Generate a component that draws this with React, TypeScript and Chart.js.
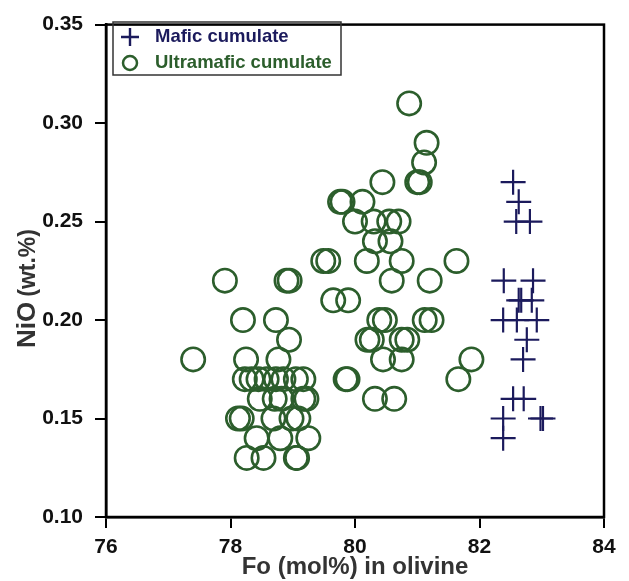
import { useEffect, useRef } from "react";
import { Chart, registerables } from "chart.js";

Chart.register(...registerables);

// Olivine compositions: forsterite content (mol%) vs NiO (wt.%)
const maficFo = [82.54, 82.63, 82.59, 82.81, 82.39, 82.86, 82.63, 82.67, 82.84, 82.38, 82.6, 82.92, 82.76, 82.7, 82.54, 82.71, 82.38, 82.98, 83.02, 82.38];
const maficNiO = [0.27, 0.26, 0.25, 0.25, 0.22, 0.22, 0.21, 0.21, 0.21, 0.2, 0.2, 0.2, 0.19, 0.18, 0.16, 0.16, 0.15, 0.15, 0.15, 0.14];

const ultraFo = [
  80.87, 81.15, 81.11,
  80.44, 81.0, 81.04,
  79.76, 79.8, 80.12,
  80.0, 80.3, 80.55, 80.7,
  80.32, 80.57,
  79.49, 79.57, 80.19, 80.75, 81.63,
  77.91, 78.9, 78.95, 80.59, 81.2,
  79.65, 79.89,
  78.2, 78.73, 80.39, 80.48, 81.12, 81.23,
  78.94, 80.2, 80.27, 80.75, 80.84,
  77.4, 78.25, 78.77, 80.45, 80.75, 81.87,
  78.23, 78.34, 78.45, 78.58, 78.73, 78.85, 79.05, 79.17, 79.85, 79.88, 81.66,
  78.47, 78.71, 78.82, 79.17, 79.22, 80.32, 80.63,
  78.12, 78.18, 78.69, 78.98, 79.09,
  78.42, 78.8, 79.25,
  78.26, 78.53, 79.05, 79.07,
];
const ultraNiO = [
  0.31, 0.29, 0.28,
  0.27, 0.27, 0.27,
  0.26, 0.26, 0.26,
  0.25, 0.25, 0.25, 0.25,
  0.24, 0.24,
  0.23, 0.23, 0.23, 0.23, 0.23,
  0.22, 0.22, 0.22, 0.22, 0.22,
  0.21, 0.21,
  0.2, 0.2, 0.2, 0.2, 0.2, 0.2,
  0.19, 0.19, 0.19, 0.19, 0.19,
  0.18, 0.18, 0.18, 0.18, 0.18, 0.18,
  0.17, 0.17, 0.17, 0.17, 0.17, 0.17, 0.17, 0.17, 0.17, 0.17, 0.17,
  0.16, 0.16, 0.16, 0.16, 0.16, 0.16, 0.16,
  0.15, 0.15, 0.15, 0.15, 0.15,
  0.14, 0.14, 0.14,
  0.13, 0.13, 0.13, 0.13,
];

const seriesNames = ["Mafic cumulate", "Ultramafic cumulate"];
const xTitle = "Fo (mol%) in olivine";
const yTitleMain = "NiO";
const yTitleUnit = "(wt.%)";

const NAVY = "#1b1a5c";
const GREEN = "#2c5e2c";
const FONT = "'Liberation Sans', Arial, sans-serif";

const framePlugin = {
  id: "frame",
  afterDraw(chart: any) {
    const { ctx, chartArea: a } = chart;
    ctx.save();
    // plot box
    ctx.strokeStyle = "#000";
    ctx.lineWidth = 2.5;
    ctx.strokeRect(a.left, a.top, a.right - a.left, a.bottom - a.top);

    // x title
    ctx.fillStyle = "#333";
    ctx.font = `bold 24px ${FONT}`;
    ctx.textAlign = "center";
    ctx.textBaseline = "middle";
    ctx.fillText(xTitle, (a.left + a.right) / 2, 567);

    // y title, rotated
    ctx.translate(28, 348);
    ctx.rotate(-Math.PI / 2);
    ctx.textAlign = "left";
    ctx.font = `bold 26px ${FONT}`;
    ctx.fillText(yTitleMain, 0, 0);
    const w = ctx.measureText(yTitleMain).width;
    ctx.font = `bold 23px ${FONT}`;
    ctx.fillText(yTitleUnit, w + 5, 1);
    ctx.restore();

    // legend
    ctx.save();
    ctx.strokeStyle = "#333";
    ctx.lineWidth = 1.5;
    ctx.strokeRect(113, 22, 228, 53);
    ctx.strokeStyle = NAVY;
    ctx.lineWidth = 2.4;
    ctx.beginPath();
    ctx.moveTo(121, 37);
    ctx.lineTo(139, 37);
    ctx.moveTo(130, 28);
    ctx.lineTo(130, 46);
    ctx.stroke();
    ctx.strokeStyle = GREEN;
    ctx.lineWidth = 2.5;
    ctx.beginPath();
    ctx.arc(130, 63, 7, 0, Math.PI * 2);
    ctx.stroke();
    ctx.font = `bold 18.5px ${FONT}`;
    ctx.textAlign = "left";
    ctx.textBaseline = "middle";
    ctx.fillStyle = NAVY;
    ctx.fillText(seriesNames[0], 155, 37);
    ctx.fillStyle = GREEN;
    ctx.fillText(seriesNames[1], 155, 63);
    ctx.restore();
  },
};

export default function App() {
  const ref = useRef<HTMLCanvasElement>(null);

  useEffect(() => {
    if (!ref.current) return;
    const chart = new Chart(ref.current, {
      type: "scatter",
      data: {
        datasets: [
          {
            label: seriesNames[1],
            data: ultraFo.map((x, i) => ({ x, y: ultraNiO[i] })),
            pointStyle: "circle",
            pointRadius: 11.7,
            pointHoverRadius: 11.7,
            pointBorderWidth: 2.6,
            borderColor: GREEN,
            backgroundColor: "rgba(0,0,0,0)",
          },
          {
            label: seriesNames[0],
            data: maficFo.map((x, i) => ({ x, y: maficNiO[i] })),
            pointStyle: "cross",
            pointRadius: 12.5,
            pointHoverRadius: 12.5,
            pointBorderWidth: 2.2,
            borderColor: NAVY,
            backgroundColor: NAVY,
          },
        ],
      },
      options: {
        responsive: false,
        animation: false,
        events: [],
        layout: { padding: { top: 16, right: 25, left: 0, bottom: 0 } },
        plugins: {
          legend: { display: false },
          tooltip: { enabled: false },
        },
        scales: {
          x: {
            type: "linear",
            min: 76,
            max: 84,
            afterFit: (s: any) => {
              s.height = 64;
            },
            ticks: {
              stepSize: 2,
              padding: 7,
              color: "#111",
              font: { family: FONT, size: 21, weight: "bold" },
            },
            grid: {
              drawOnChartArea: false,
              drawTicks: true,
              tickLength: 11,
              color: "#000",
              lineWidth: 2,
            },
            border: { display: true, color: "#000", width: 2.5 },
          },
          y: {
            type: "linear",
            min: 0.1,
            max: 0.35,
            afterFit: (s: any) => {
              s.width = 106;
            },
            ticks: {
              stepSize: 0.05,
              padding: 12,
              color: "#111",
              font: { family: FONT, size: 21, weight: "bold" },
              callback: (v: any) => Number(v).toFixed(2),
            },
            grid: {
              drawOnChartArea: false,
              drawTicks: true,
              tickLength: 11,
              color: "#000",
              lineWidth: 2,
            },
            border: { display: true, color: "#000", width: 2.5 },
          },
        },
      },
      plugins: [framePlugin],
    });
    return () => chart.destroy();
  }, []);

  return (
    <div style={{ position: "absolute", left: 0, top: 0, width: 629, height: 581, background: "#fff" }}>
      <canvas ref={ref} width={629} height={581} style={{ display: "block" }} />
    </div>
  );
}
